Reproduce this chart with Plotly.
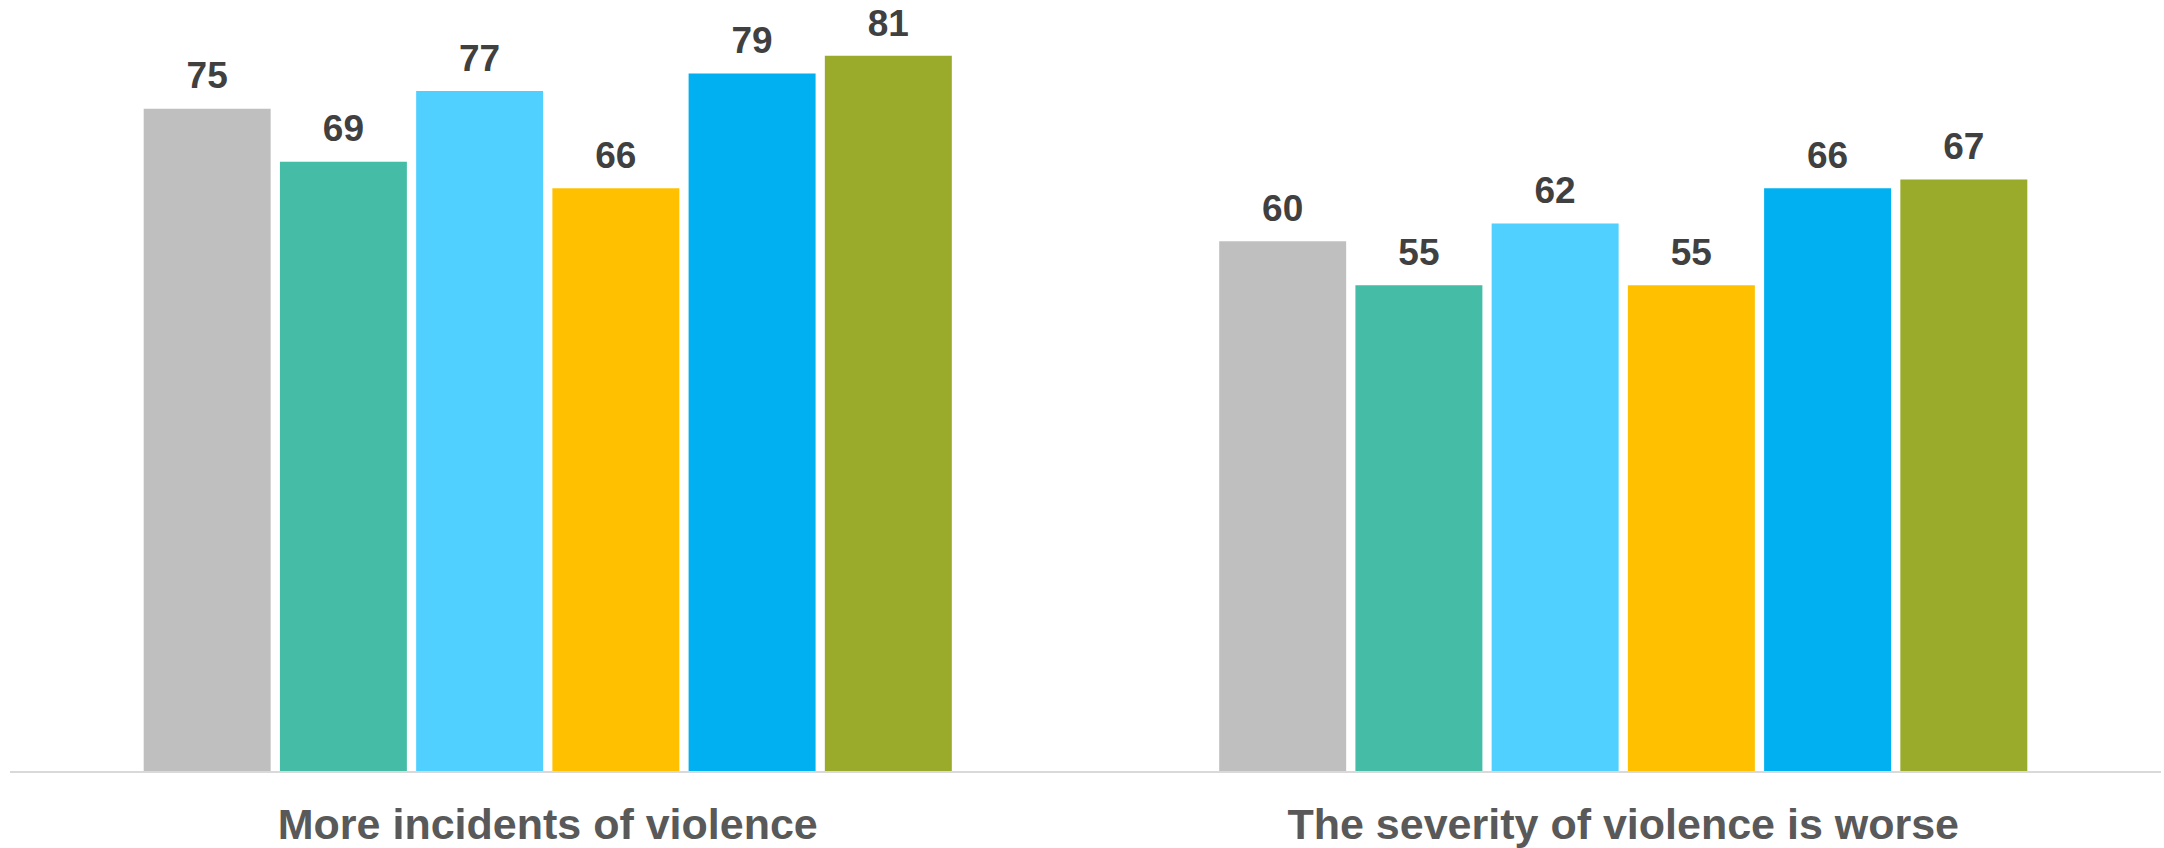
import plotly.graph_objects as go

categories = ["More incidents of violence", "The severity of violence is worse"]
series_names = ["Series 1", "Series 2", "Series 3", "Series 4", "Series 5", "Series 6"]
series_values = [
    [75, 60],
    [69, 55],
    [77, 62],
    [66, 55],
    [79, 66],
    [81, 67],
]
colors = ["#BFBFBF", "#45BDA6", "#4FD0FF", "#FFC000", "#00B0F0", "#9AAA2A"]

label_font = dict(family="Liberation Sans, Arial, sans-serif", size=37, color="#404040", weight="bold")

fig = go.Figure()
for i, (name, vals, col) in enumerate(zip(series_names, series_values, colors)):
    fig.add_trace(go.Bar(
        x=categories, y=vals, name=name, offsetgroup=str(i),
        marker=dict(color=col, line=dict(width=0)),
        textposition="none",
    ))
for i, (name, vals) in enumerate(zip(series_names, series_values)):
    fig.add_trace(go.Scatter(
        x=categories, y=vals, name=name + " labels", offsetgroup=str(i),
        mode="markers+text", marker=dict(size=16, opacity=0),
        text=[str(v) for v in vals], textposition="top center",
        textfont=label_font, cliponaxis=False, hoverinfo="skip",
    ))

fig.update_layout(
    width=2164, height=848,
    margin=dict(l=10, r=3, t=20, b=77),
    paper_bgcolor="white", plot_bgcolor="white",
    barmode="group", bargap=0.24, bargroupgap=0.068,
    scattermode="group", scattergap=0.24,
    showlegend=False,
)
fig.update_xaxes(
    showline=True, linecolor="#D9D9D9", linewidth=2,
    ticks="outside", ticklen=14, tickcolor="rgba(0,0,0,0)",
    tickfont=dict(family="Liberation Sans, Arial, sans-serif", size=43, color="#595959", weight="bold"),
    automargin=False,
)
fig.update_yaxes(range=[0, 85.05], visible=False, showgrid=False, zeroline=False, automargin=False)

fig.write_html(
    "out.html",
    config={"displayModeBar": False},
    post_script="document.body.style.margin='0';document.body.style.overflow='hidden';",
)
